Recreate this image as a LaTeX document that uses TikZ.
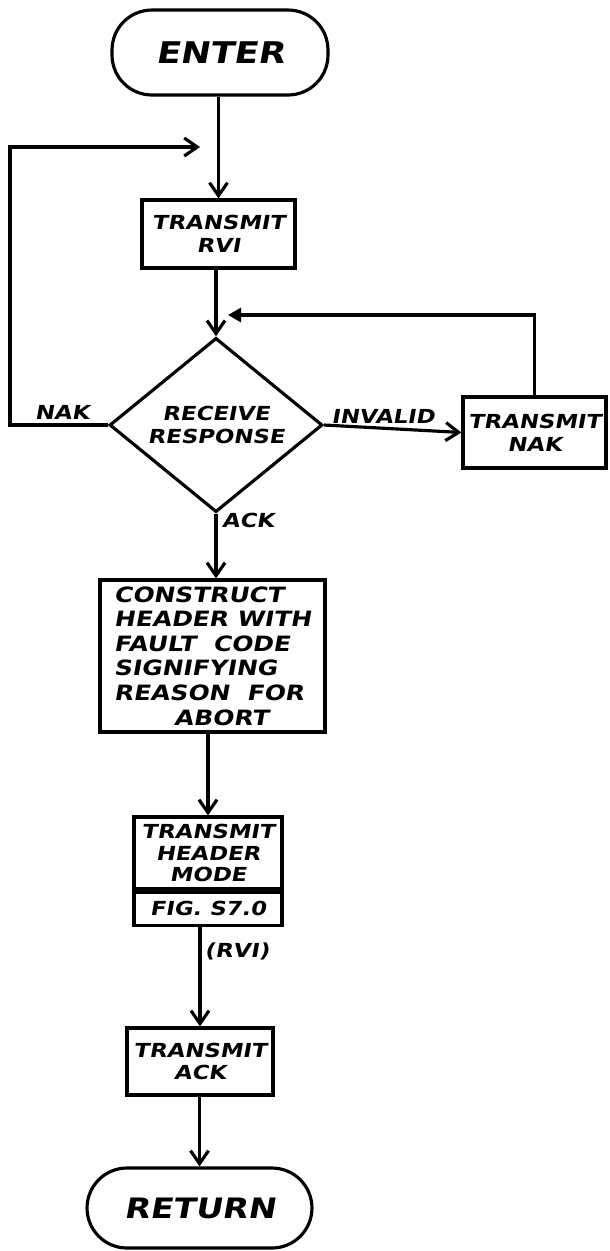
\documentclass[tikz,border=0pt]{standalone}
\usepackage{fontspec}
\newfontfamily\handfont{DejaVu Sans Bold}[FakeSlant=0.18,FakeStretch=1.18]
\usetikzlibrary{arrows.meta, positioning, shapes.geometric}

\begin{document}
\begin{tikzpicture}[
  x=0.02cm, y=-0.02cm,
  font=\handfont\fontsize{11}{13}\selectfont,
  line width=1.8pt,
  term/.style ={draw, rounded corners=0.8cm, minimum width=4.32cm,
                minimum height=1.7cm, font=\handfont\fontsize{17}{20}\selectfont},
  proc/.style ={draw, minimum width=2.96cm, minimum height=1.36cm,
                align=center, inner sep=2pt},
  dec/.style  ={draw, diamond, minimum width=4.26cm, minimum height=2.94cm,
                align=center, inner sep=0pt},
  % connector styles -------------------------------------------------
  flow/.style ={-{Straight Barb[length=2.6mm, width=3.6mm]}},
  back/.style ={-{Triangle[length=2.6mm, width=2.8mm]}},
  lbl/.style  ={inner sep=0pt},
]
\useasboundingbox (0,0) rectangle (609,1251);

% =========================== NODES ==================================
\node[term] (enter) at (220,52.5) {ENTER};
\node[proc, minimum width=3.06cm] (rvi) at (218.5,234) {TRANSMIT\\RVI};
\node[dec] (recv) at (216,425) {RECEIVE\\RESPONSE};
\node[proc, minimum width=2.86cm, minimum height=1.42cm] (nak) at (534.5,432.5)
  {TRANSMIT\\NAK};
\node[proc, minimum width=4.5cm, minimum height=3.04cm, align=left,
      font=\handfont\fontsize{12}{14}\selectfont] (cons) at (212.5,656)
  {CONSTRUCT\\HEADER WITH\\FAULT\ \ CODE\\SIGNIFYING\\REASON\ \ FOR\\\hspace*{1.2cm}ABORT};
\node[proc, minimum height=1.44cm, font=\handfont\fontsize{11}{12}\selectfont]
  (hdr) at (208,853) {TRANSMIT\\HEADER\\MODE};
\node[proc, minimum height=0.66cm, below=0pt of hdr] (fig) {FIG. S7.0};
\node[proc, minimum width=2.92cm, minimum height=1.34cm] (ack) at (200,1061.5)
  {TRANSMIT\\ACK};
\node[term, minimum width=4.5cm, minimum height=1.6cm,
      font=\handfont\fontsize{16}{19}\selectfont] (ret) at (199.5,1208) {RETURN};

% free ends of the two loops
\coordinate (loopin)   at (200,147);
\coordinate (leftrail) at (10,147);
\coordinate (retin)    at (228,315);

% =========================== LABELS =================================
\node[lbl] (naklbl) at (62,412)  {NAK};
\node[lbl] (invlbl) at (383,416) {INVALID};
\node[lbl] (acklbl) at (248,520) {ACK};
\node[lbl] (rvilbl) at (237,951) {(RVI)};

% ========================= CONNECTORS ===============================
\draw[flow] (enter.south -| rvi.north) -- (rvi.north);
\draw[flow] (rvi.south -| recv.north) -- (recv.north);
\draw[flow] (recv.east) -- (nak.west);
\draw[flow] (recv.south) -- (recv.south |- cons.north);
\draw[flow] (cons.south -| hdr.north) -- (hdr.north);
\draw[flow] (fig.south -| ack.north) -- (ack.north);
\draw[flow] (ack.south -| ret.north) -- (ret.north);

% NAK: back round the left side to the top
\draw[flow] (recv.west) -| (leftrail) -- (loopin);
% TRANSMIT NAK: back over to the diamond
\draw[back] (nak.north) |- (retin);

\end{tikzpicture}
\end{document}
